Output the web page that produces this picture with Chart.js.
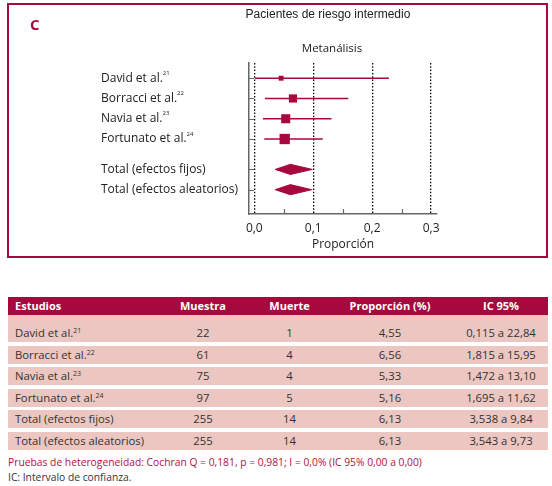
<!DOCTYPE html>
<html>
<head>
<meta charset="utf-8">
<script src="https://cdn.jsdelivr.net/npm/chart.js@4.4.0/dist/chart.umd.min.js"></script>
<style>
  body { margin: 0; width: 552px; height: 486px; background: #fff; overflow: hidden; position: relative; font-family: 'Open Sans', sans-serif; }
  .box { position: absolute; left: 7px; top: 3px; width: 537px; height: 251px; border: 2px solid #a6093d; }
  #forest { position: absolute; left: 0; top: 0; }
  .letter { position: absolute; left: 30px; top: 14px; font: bold 15px 'Open Sans', sans-serif; color: #a6093d; }
  .title { position: absolute; left: 228px; width: 200px; top: 7px; text-align: center; font: 12px 'Liberation Sans', Arial, sans-serif; color: #222; }
  .subtitle { position: absolute; left: 272px; width: 120px; top: 40px; text-align: center; font: 11.5px 'Open Sans', sans-serif; color: #222; }
  .table { position: absolute; left: 8px; top: 297px; width: 540px; font-size: 11.3px; color: #333; }
  .row { position: relative; height: 18px; background: #ecc6c1; margin-top: 3.6px; }
  .row.first { margin-top: 0; height: 26.6px; }
  .row.head { margin-top: 0; height: 18.4px; background: #a6093d; color: #fff; font-weight: bold; font-size: 11px; }
  .cell { position: absolute; bottom: 0; height: 18px; line-height: 18px; text-align: center; width: 120px; white-space: nowrap; }
  .row.head .cell { height: 18.4px; line-height: 18.4px; }
  .cell.name { left: 7px; text-align: left; width: 200px; }
  sup { font-size: 7px; vertical-align: 4px; line-height: 0; }
  .note { position: absolute; left: 8px; font-size: 10.3px; white-space: nowrap; }
</style>
</head>
<body>
<div class="box"></div>
<canvas id="forest" width="552" height="258"></canvas>
<div class="letter">C</div>
<div class="title">Pacientes de riesgo intermedio</div>
<div class="subtitle">Metanálisis</div>
<div class="table" id="table"></div>
<div class="note" style="top: 455px; color: #b0103f;">Pruebas de heterogeneidad: Cochran Q = 0,181, p = 0,981; I = 0,0% (IC 95% 0,00 a 0,00)</div>
<div class="note" style="top: 470px; color: #333;">IC: Intervalo de confianza.</div>
<script>
const studies = ['David et al.', 'Borracci et al.', 'Navia et al.', 'Fortunato et al.', 'Total (efectos fijos)', 'Total (efectos aleatorios)'];
const refs = ['21', '22', '23', '24', '', ''];
const sampleSize = [22, 61, 75, 97, 255, 255];
const deaths = [1, 4, 4, 5, 14, 14];
const proportion = [4.55, 6.56, 5.33, 5.16, 6.13, 6.13];
const ciLow = [0.115, 1.815, 1.472, 1.695, 3.538, 3.543];
const ciHigh = [22.84, 15.95, 13.10, 11.62, 9.84, 9.73];
const xTicks = [0, 0.1, 0.2, 0.3];
const xMinorTicks = [0.05, 0.15, 0.25];
const headers = ['Estudios', 'Muestra', 'Muerte', 'Proporción (%)', 'IC 95%'];

const red = '#a6093d';
const nStudies = 4;
// totals are set a bit lower than the single studies
const rowY = studies.map((s, i) => (i < nStudies ? i : i + 0.5));
const comma = (v, d) => v.toFixed(d).replace('.', ',');

// ---- table ----
const colCenter = [0, 195, 281.5, 382, 493];
const table = document.getElementById('table');
function addRow(cells, cls) {
  const row = document.createElement('div');
  row.className = 'row ' + cls;
  cells.forEach((c, j) => {
    const cell = document.createElement('div');
    cell.className = 'cell' + (j === 0 ? ' name' : '');
    if (j > 0) cell.style.left = colCenter[j] - 60 + 'px';
    cell.innerHTML = c;
    row.appendChild(cell);
  });
  table.appendChild(row);
}
addRow(headers, 'head');
studies.forEach((s, i) => {
  addRow([
    s + (refs[i] ? '<sup>' + refs[i] + '</sup>' : ''),
    sampleSize[i],
    deaths[i],
    comma(proportion[i], 2),
    comma(ciLow[i], 3) + ' a ' + comma(ciHigh[i], 2),
  ], i === 0 ? 'first' : '');
});

// ---- forest plot ----
const datasets = [];
for (let i = 0; i < nStudies; i++) {
  datasets.push({
    data: [{ x: ciLow[i] / 100, y: rowY[i] }, { x: ciHigh[i] / 100, y: rowY[i] }],
    showLine: true,
    borderColor: red,
    borderWidth: 1.4,
    pointRadius: 0,
  });
}
datasets.push({
  data: proportion.slice(0, nStudies).map((p, i) => ({ x: p / 100, y: rowY[i] })),
  pointStyle: 'rect',
  pointRadius: ctx => Math.sqrt(sampleSize[ctx.dataIndex]) * 0.74,
  backgroundColor: red,
  borderWidth: 0,
});
const half = 0.25;
for (let i = nStudies; i < studies.length; i++) {
  const p = proportion[i] / 100;
  datasets.push({
    data: [
      { x: ciLow[i] / 100, y: rowY[i] },
      { x: p, y: rowY[i] - half },
      { x: ciHigh[i] / 100, y: rowY[i] },
      { x: p, y: rowY[i] + half },
      { x: ciLow[i] / 100, y: rowY[i] },
    ],
    showLine: true,
    fill: 'shape',
    borderColor: red,
    borderWidth: 1,
    backgroundColor: red,
    pointRadius: 0,
  });
}

const extras = {
  id: 'extras',
  afterDraw(chart) {
    const { ctx, scales: { x, y } } = chart;
    ctx.save();
    // inward tick marks
    ctx.strokeStyle = '#666';
    ctx.lineWidth = 1.2;
    ctx.beginPath();
    rowY.forEach(v => {
      const py = Math.round(y.getPixelForValue(v)) + 0.5;
      ctx.moveTo(x.left, py);
      ctx.lineTo(x.left + 5, py);
    });
    xMinorTicks.forEach(v => {
      const px = Math.round(x.getPixelForValue(v)) + 0.5;
      ctx.moveTo(px, y.bottom);
      ctx.lineTo(px, y.bottom - 5);
    });
    ctx.stroke();
    // study labels
    ctx.fillStyle = '#222';
    ctx.textBaseline = 'middle';
    studies.forEach((s, i) => {
      const py = y.getPixelForValue(rowY[i]);
      ctx.font = "12px 'Open Sans'";
      ctx.fillText(s, 101, py);
      if (refs[i]) {
        const w = ctx.measureText(s).width;
        ctx.font = "6px 'Open Sans'";
        ctx.fillText(refs[i], 101 + w, py - 5);
      }
    });
    ctx.restore();
  },
};

new Chart(document.getElementById('forest'), {
  type: 'scatter',
  data: { datasets },
  options: {
    responsive: false,
    animation: false,
    layout: { padding: { left: 249, right: 115, top: 63, bottom: 0 } },
    plugins: { legend: { display: false }, tooltip: { enabled: false } },
    scales: {
      x: {
        type: 'linear',
        min: -0.009,
        max: 0.31,
        afterBuildTicks: s => { s.ticks = xTicks.map(v => ({ value: v })); },
        afterFit: s => { s.height = 44; },
        grid: { color: '#000', lineWidth: 1.3, drawTicks: false },
        border: { color: '#666', width: 1.5, dash: [1.5, 1.8] },
        ticks: {
          padding: 7,
          color: '#222',
          font: { family: 'Open Sans', size: 12, weight: 500 },
          callback: v => comma(v, 1),
        },
        title: {
          display: true,
          text: 'Proporción',
          color: '#222',
          font: { family: 'Open Sans', size: 12 },
          padding: { top: 0, bottom: 6 },
        },
      },
      y: {
        type: 'linear',
        reverse: true,
        min: -0.75,
        max: 6.7,
        afterFit: s => { s.width = 0; },
        ticks: { display: false },
        grid: { display: false },
        border: { color: '#666', width: 1.5 },
      },
    },
  },
  plugins: [extras],
});
</script>
</body>
</html>
